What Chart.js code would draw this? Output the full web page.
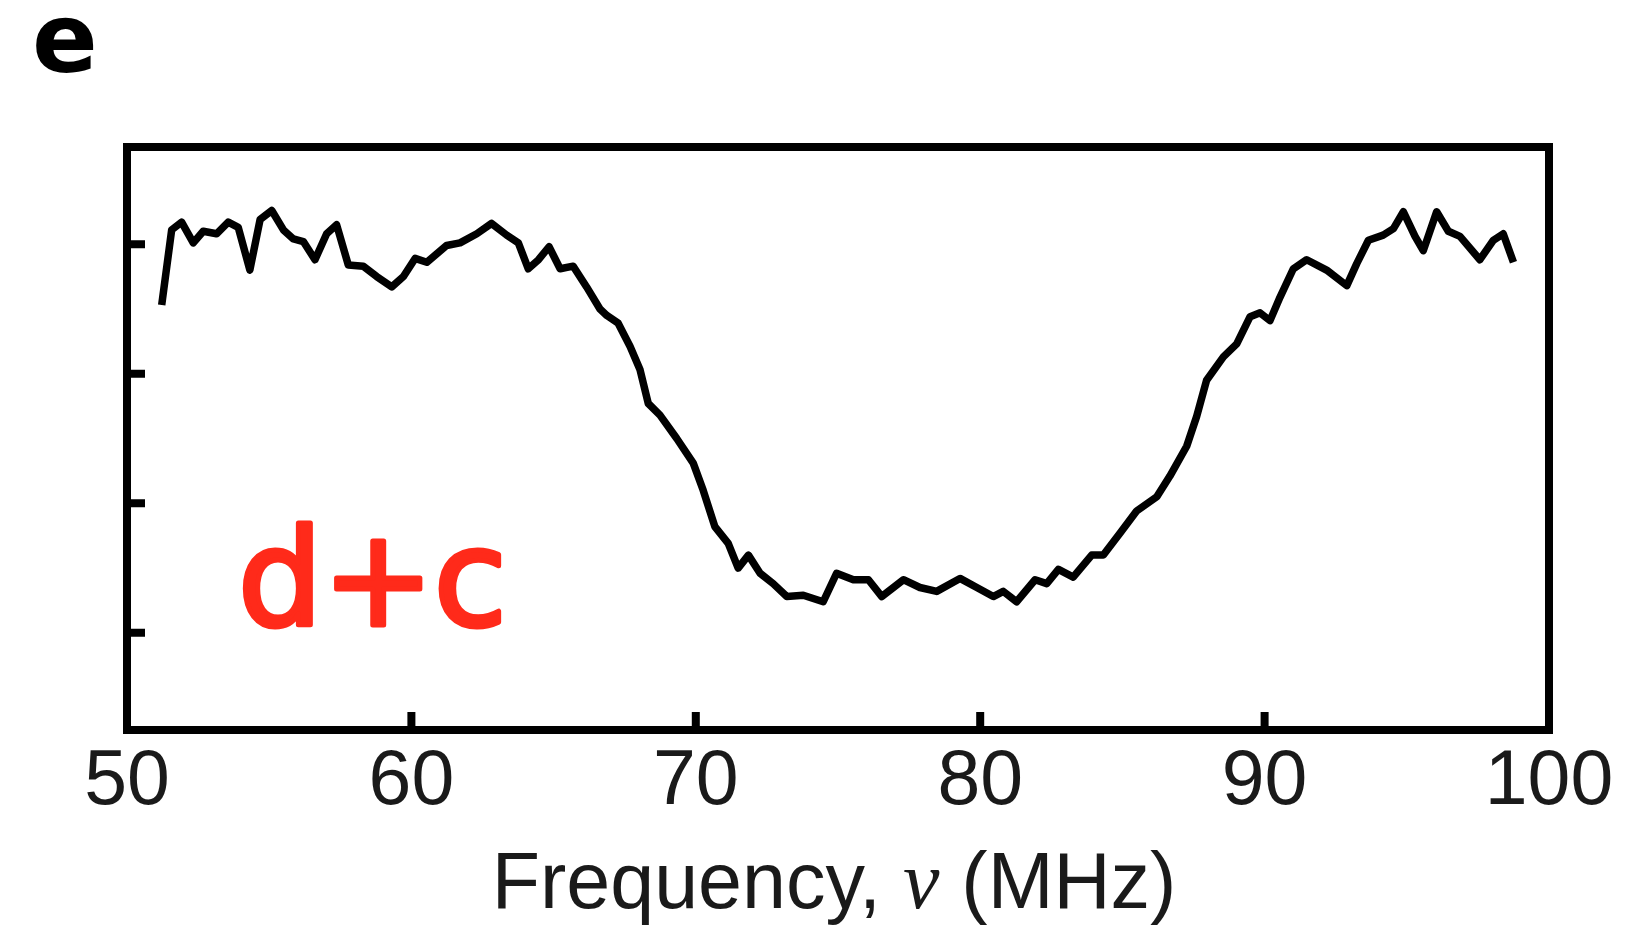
<!DOCTYPE html>
<html lang="en">
  <head>
    <meta charset="UTF-8" />
    <title>Frequency, ν (MHz)</title>
    <script src="https://cdn.jsdelivr.net/npm/chart.js"></script>
    <style>
      html, body { margin: 0; padding: 0; background: #ffffff; }
      #grafico { display: block; }
    </style>
  </head>
  <body>
    <canvas id="grafico" width="1628" height="931"></canvas>
  </body>
</html>

<script>
  // dados (painel e)
  const frequencias = [
    51.22, 51.57, 51.92, 52.33, 52.68, 53.15, 53.56, 53.91, 54.32, 54.68,
    55.09, 55.50, 55.85, 56.20, 56.61, 57.02, 57.37, 57.78, 58.31, 58.78,
    59.31, 59.72, 60.13, 60.54, 61.24, 61.71, 62.30, 62.82, 63.35, 63.76,
    64.11, 64.47, 64.84, 65.23, 65.69, 66.16, 66.63, 66.87, 67.27, 67.69,
    68.04, 68.33, 68.74, 69.33, 69.91, 70.26, 70.67, 71.14, 71.49, 71.85,
    72.26, 72.72, 73.20, 73.78, 74.48, 74.95, 75.54, 76.07, 76.54, 77.30,
    77.88, 78.47, 79.29, 79.88, 80.46, 80.81, 81.28, 81.93, 82.34, 82.75,
    83.27, 83.92, 84.33, 84.92, 85.50, 86.21, 86.67, 87.26, 87.61, 87.96,
    88.55, 89.02, 89.49, 89.84, 90.19, 90.54, 91.01, 91.48, 92.18, 92.89,
    93.24, 93.65, 94.17, 94.53, 94.88, 95.29, 95.58, 96.05, 96.46, 96.87,
    97.57, 98.04, 98.39, 98.75
  ];

  const sinal = [
    2.53, 3.11, 3.17, 3.01, 3.10, 3.08, 3.17, 3.13, 2.80, 3.19,
    3.26, 3.11, 3.04, 3.02, 2.88, 3.08, 3.15, 2.84, 2.83, 2.75,
    2.67, 2.75, 2.89, 2.86, 2.99, 3.01, 3.08, 3.16, 3.07, 3.01,
    2.81, 2.88, 2.98, 2.81, 2.83, 2.67, 2.50, 2.45, 2.39, 2.21,
    2.03, 1.77, 1.68, 1.50, 1.31, 1.10, 0.82, 0.69, 0.50, 0.60,
    0.46, 0.38, 0.28, 0.29, 0.24, 0.46, 0.41, 0.41, 0.28, 0.41,
    0.35, 0.32, 0.42, 0.35, 0.28, 0.32, 0.24, 0.41, 0.38, 0.49,
    0.43, 0.60, 0.60, 0.77, 0.94, 1.05, 1.21, 1.44, 1.67, 1.95,
    2.13, 2.23, 2.44, 2.47, 2.41, 2.59, 2.81, 2.88, 2.80, 2.68,
    2.85, 3.03, 3.07, 3.12, 3.25, 3.06, 2.95, 3.25, 3.10, 3.06,
    2.88, 3.03, 3.08, 2.86
  ];

  // marcas dos eixos (o eixo y nao tem numeros)
  const rotulosX = [50, 60, 70, 80, 90, 100];
  const marcasY = [0, 1, 2, 3];

  const tituloX = ["Frequency, ", "ν", " (MHz)"];
  const letraPainel = "e";
  const anotacao = "d+c";

  const corTexto = "#1a1a1a";

  // fundo branco
  const fundo = {
    id: "fundo",
    beforeDraw(chart) {
      const ctx = chart.ctx;
      ctx.save();
      ctx.fillStyle = "#ffffff";
      ctx.fillRect(0, 0, chart.width, chart.height);
      ctx.restore();
    },
  };

  // moldura preta e marcas para dentro
  const moldura = {
    id: "moldura",
    afterDatasetsDraw(chart) {
      const ctx = chart.ctx;
      const a = chart.chartArea;
      const x = chart.scales.x;
      const y = chart.scales.y;
      ctx.save();
      ctx.strokeStyle = "#000000";
      ctx.lineWidth = 8;
      ctx.lineCap = "butt";
      ctx.beginPath();
      for (const v of rotulosX.slice(1, -1)) {
        const px = x.getPixelForValue(v);
        ctx.moveTo(px, a.bottom);
        ctx.lineTo(px, a.bottom - 18);
      }
      for (const v of marcasY) {
        const py = y.getPixelForValue(v);
        ctx.moveTo(a.left, py);
        ctx.lineTo(a.left + 18, py);
      }
      ctx.stroke();
      ctx.lineJoin = "miter";
      ctx.strokeRect(a.left, a.top, a.right - a.left, a.bottom - a.top);
      ctx.restore();
    },
  };

  // textos: letra do painel, titulo do eixo x e anotacao vermelha
  const textos = {
    id: "textos",
    afterDraw(chart) {
      const ctx = chart.ctx;
      const a = chart.chartArea;
      ctx.save();

      ctx.fillStyle = "#000000";
      ctx.textBaseline = "alphabetic";
      ctx.textAlign = "left";
      ctx.font = "bold 97px 'DejaVu Sans'";
      ctx.fillText(letraPainel, 32, 72);

      const fontes = [
        "79px 'Liberation Sans'",
        "italic 82px 'Liberation Serif'",
        "79px 'Liberation Sans'",
      ];
      let total = 0;
      const larguras = tituloX.map((t, i) => {
        ctx.font = fontes[i];
        const w = ctx.measureText(t).width;
        total += w;
        return w;
      });
      let cx = (a.left + a.right) / 2 - 4 - total / 2;
      ctx.fillStyle = corTexto;
      tituloX.forEach((t, i) => {
        ctx.font = fontes[i];
        ctx.fillText(t, cx, 908);
        cx += larguras[i];
      });

      ctx.fillStyle = "#ff2a1a";
      ctx.strokeStyle = "#ff2a1a";
      ctx.lineWidth = 5;
      ctx.lineJoin = "round";
      ctx.font = "133px 'DejaVu Sans'";
      ctx.fillText(anotacao, 238, 625);
      ctx.strokeText(anotacao, 238, 625);

      ctx.restore();
    },
  };

  const dados = {
    datasets: [
      {
        label: "sinal",
        data: frequencias.map((f, i) => ({ x: f, y: sinal[i] })),
        borderColor: "#000000",
        borderWidth: 7.5,
        borderJoinStyle: "round",
        pointRadius: 0,
        tension: 0,
        fill: false,
      },
    ],
  };

  const config = {
    type: "line",
    data: dados,
    options: {
      responsive: false,
      animation: false,
      devicePixelRatio: 1,
      layout: { padding: { left: 127, right: 79, top: 147, bottom: 0 } },
      plugins: {
        legend: { display: false },
        tooltip: { enabled: false },
      },
      scales: {
        x: {
          type: "linear",
          min: 50,
          max: 100,
          grid: { display: false, drawTicks: false },
          border: { display: false },
          ticks: {
            color: corTexto,
            font: { family: "'Liberation Sans'", size: 77 },
            padding: 7,
            maxRotation: 0,
            autoSkip: false,
          },
          afterBuildTicks: (s) => {
            s.ticks = rotulosX.map((v) => ({ value: v }));
          },
          afterFit: (s) => {
            s.height = 201;
          },
        },
        y: {
          type: "linear",
          min: -0.75,
          max: 3.75,
          grid: { display: false, drawTicks: false },
          border: { display: false },
          ticks: { display: false },
          afterBuildTicks: (s) => {
            s.ticks = marcasY.map((v) => ({ value: v }));
          },
          afterFit: (s) => {
            s.width = 0;
          },
        },
      },
    },
    plugins: [fundo, moldura, textos],
  };

  let meuGrafico = new Chart(document.getElementById("grafico"), config);
</script>
